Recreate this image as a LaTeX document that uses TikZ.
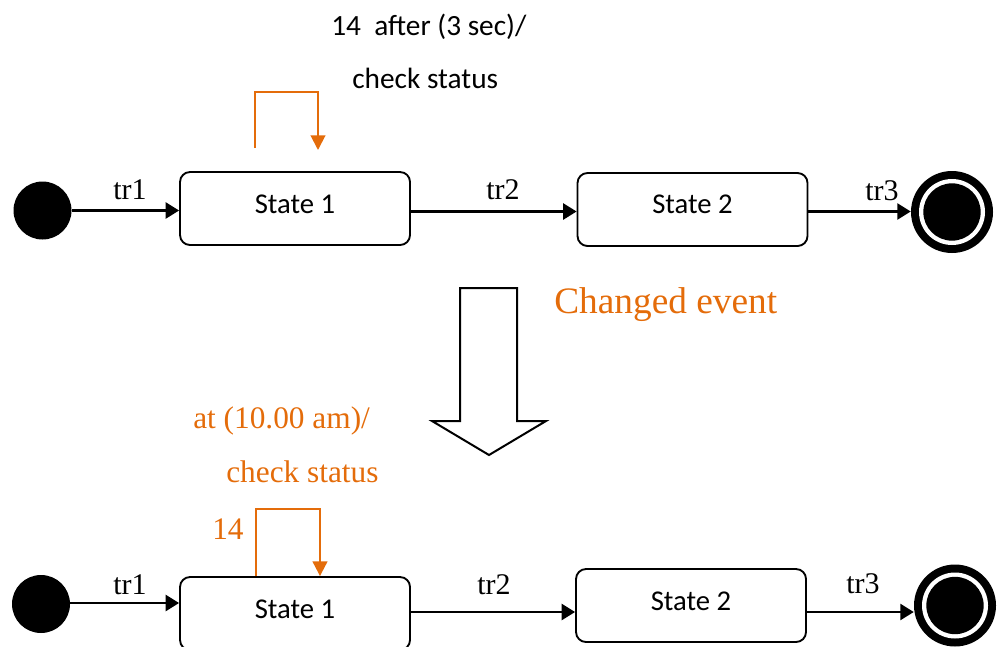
\documentclass[tikz,border=0pt]{standalone}
\usepackage{fontspec}
\setmainfont{Liberation Serif}
\newfontfamily\calib{Carlito}
\usetikzlibrary{arrows.meta}
\definecolor{org}{RGB}{228,108,10}
\begin{document}
\begin{tikzpicture}[x=0.75pt,y=-0.75pt,
  statebox/.style={draw,line width=1.4pt,rounded corners=7.5pt,minimum width=172.5pt,minimum height=54.75pt,inner sep=0pt},
  stxt/.style={font=\calib\fontsize{21.5}{25}\selectfont,anchor=base,inner sep=0pt},
  trtxt/.style={font=\fontsize{22.5}{26}\selectfont,anchor=base,inner sep=0pt},
  initst/.style={circle,fill=black,minimum size=43.5pt,inner sep=0pt},
  finalst/.style={circle,fill=black,minimum size=61.5pt,inner sep=0pt},
  trans/.style={line width=1.6pt,-{Triangle[length=10pt,width=12pt]}},
  loopar/.style={org,line width=1.5pt,-{Triangle[length=11pt,width=11pt]}},
  orgtxt/.style={org,font=\fontsize{23.5}{28}\selectfont,anchor=base west,inner sep=0pt},
]
\useasboundingbox (0,0) rectangle (998,646);
\clip (0,0) rectangle (998,646);

% ---------- top diagram ----------
\node[initst] (i1) at (42.5,210.5) {};
\node[statebox] (s1) at (295,208.5) {};
\node[stxt] (s1t) at (295,213) {State 1};
\node[statebox] (s2) at (692.5,209.5) {};
\node[stxt] (s2t) at (692.5,213.3) {State 2};
\node[finalst] (f1) at (952,212) {};
\fill[white] (f1.center) circle (24.75pt);
\fill[black] (f1.center) circle (21.5pt);

\draw[trans] (i1.east |- 0,210.5) -- (s1.west |- 0,210.5);
\draw[trans] (s1.east |- 0,211.5) -- (s2.west |- 0,211.5);
\draw[trans] (s2.east |- 0,211.5) -- (f1.west |- 0,211.5);
\node[trtxt] (t1) at (130,199) {tr1};
\node[trtxt] (t2) at (503,199) {tr2};
\node[trtxt] (t3) at (882,200) {tr3};

\coordinate (la1) at (255,148);
\coordinate (la2) at (255,92);
\coordinate (la3) at (318,92);
\coordinate (la4) at (318,150);
\draw[loopar] (la1) -- (la2) -- (la3) -- (la4);
\node[font=\calib\fontsize{22}{26}\selectfont,anchor=base west,inner sep=0pt] (ev1) at (331,35) {14\ \ after (3 sec)/};
\node[font=\calib\fontsize{22}{26}\selectfont,anchor=base west,inner sep=0pt] (ac1) at (352,88) {check status};

% ---------- big arrow ----------
\draw[line width=1.5pt,line join=miter] (460,288) -- (517,288) -- (517,421) -- (546,421) -- (489,455) -- (432,421) -- (460,421) -- cycle;
\node[org,font=\fontsize{28}{32}\selectfont,anchor=base west,inner sep=0pt] (ce) at (554,313) {Changed event};

% ---------- bottom diagram ----------
\node[initst] (i2) at (41,604) {};
\node[statebox] (s3) at (295,613.5) {};
\node[stxt] (s3t) at (295,618) {State 1};
\node[statebox] (s4) at (691,605.5) {};
\node[stxt] (s4t) at (691,610) {State 2};
\node[finalst] (f2) at (955,605.5) {};
\fill[white] (f2.center) circle (24.75pt);
\fill[black] (f2.center) circle (21.5pt);

\draw[trans] (i2.east |- 0,603) -- (s3.west |- 0,603);
\draw[trans] (s3.east |- 0,612) -- (s4.west |- 0,612);
\draw[trans] (s4.east |- 0,612) -- (f2.west |- 0,612);
\node[trtxt] (t4) at (130,594) {tr1};
\node[trtxt] (t5) at (494,594) {tr2};
\node[trtxt] (t6) at (863,593) {tr3};

\coordinate (lb2) at (256,509);
\coordinate (lb3) at (320,509);
\draw[loopar] (s3.north -| lb2) -- (lb2) -- (lb3) -- (s3.north -| lb3);
\node[orgtxt] (n14) at (212,539) {14};
\node[orgtxt] (ev2) at (193,428) {at (10.00 am)/};
\node[orgtxt] (ac2) at (226,482) {check status};
\end{tikzpicture}
\end{document}
